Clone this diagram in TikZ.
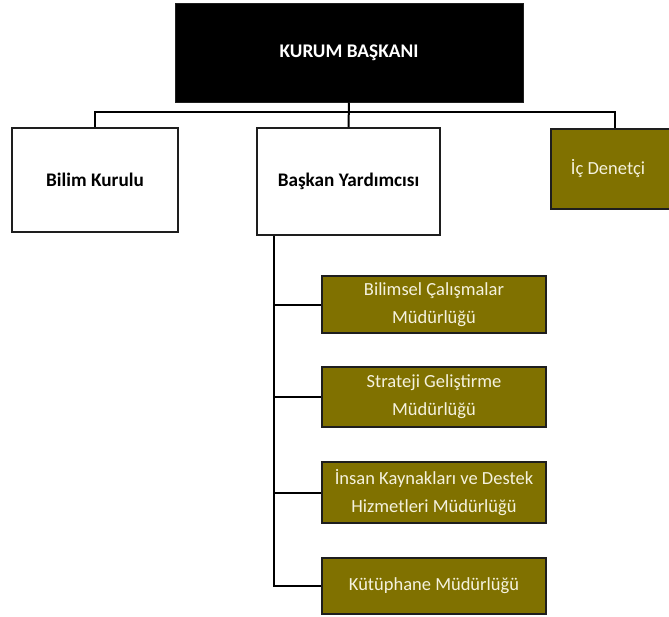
\documentclass[tikz,border=0pt]{standalone}
\usepackage{fontspec}
\setmainfont{Carlito}
\usetikzlibrary{calc}
\definecolor{olive}{RGB}{128,113,0}
\definecolor{cream}{RGB}{245,242,222}
\definecolor{edge}{RGB}{30,30,30}
\begin{document}
\begin{tikzpicture}[x=1pt,y=-1pt,
  wbox/.style={draw=edge,line width=2pt,fill=white,inner sep=0pt,align=center,font=\fontsize{19.2}{23}\selectfont\bfseries},
  obox/.style={draw=edge,line width=2pt,fill=olive,text=cream,inner sep=0pt,align=center,font=\fontsize{18.5}{28}\selectfont},
  kbox/.style={draw=edge,line width=1pt,fill=black,text=white,inner sep=0pt,align=center,font=\fontsize{19.3}{23}\selectfont\bfseries},
  link/.style={draw=black,line width=2pt}]
\useasboundingbox (0,0) rectangle (669,616);
\fill[white] (0,0) rectangle (669,616);
\node[kbox,minimum width=348pt,minimum height=99pt] (top) at (349,52.5) {KURUM BAŞKANI};
\node[wbox,minimum width=166pt,minimum height=104pt] (bilim) at (95,180) {Bilim Kurulu};
\node[wbox,minimum width=183pt,minimum height=107pt] (baskan) at (348.5,181.5) {Başkan Yardımcısı};
\node[obox,minimum width=121pt,minimum height=80pt] (ic) at (611.5,169) {\hspace*{-7pt}İç Denetçi};
\node[obox,minimum width=224pt,minimum height=57pt] (m1) at (434,304.5) {Bilimsel Çalışmalar\\Müdürlüğü};
\node[obox,minimum width=224pt,minimum height=60pt] (m2) at (434,397) {Strateji Geliştirme\\Müdürlüğü};
\node[obox,minimum width=224pt,minimum height=61pt] (m3) at (434,492.5) {İnsan Kaynakları ve Destek\\Hizmetleri Müdürlüğü};
\node[obox,minimum width=224pt,minimum height=56pt] (m4) at (434,586) {Kütüphane Müdürlüğü};
\coordinate (bar) at (349,112);
\coordinate (icdrop) at (615,112);
\coordinate (sp) at ($(baskan.south west)+(18,0)$);
\draw[link] (top.south) -- (baskan.north);
\draw[link] (bilim.north) |- (bar) -- (icdrop) -- (icdrop |- ic.north);
\draw[link] (sp) |- (m4.west);
\draw[link] (sp |- m1.west) -- (m1.west);
\draw[link] (sp |- m2.west) -- (m2.west);
\draw[link] (sp |- m3.west) -- (m3.west);
\end{tikzpicture}
\end{document}
